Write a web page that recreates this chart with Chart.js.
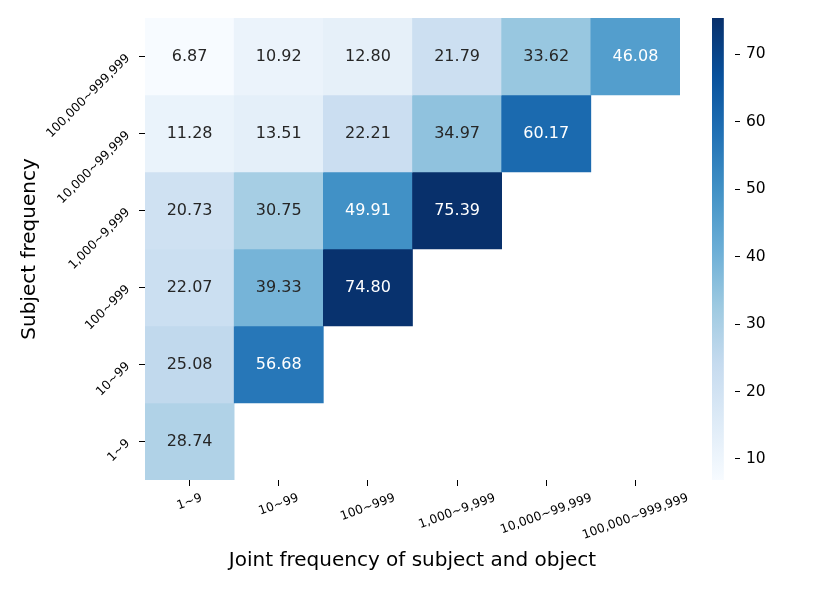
<!DOCTYPE html>
<html><head><meta charset="utf-8">
<script src="https://cdn.jsdelivr.net/npm/chart.js@4/dist/chart.umd.min.js"></script>
<style>
html,body{margin:0;padding:0;background:#fff;overflow:hidden}
#wrap{position:relative;width:830px;height:593px}
#main{position:absolute;left:0;top:0}
#cbar{position:absolute;left:700px;top:0}
</style></head><body>
<div id="wrap"><canvas id="main" width="830" height="593"></canvas><canvas id="cbar" width="130" height="593"></canvas></div>
<script>
// ---- data ----
const colLabels = ['1~9','10~99','100~999','1,000~9,999','10,000~99,999','100,000~999,999'];
const rowLabels = ['100,000~999,999','10,000~99,999','1,000~9,999','100~999','10~99','1~9']; // top -> bottom
const row100000 = [6.87, 10.92, 12.80, 21.79, 33.62, 46.08];
const row10000  = [11.28, 13.51, 22.21, 34.97, 60.17, null];
const row1000   = [20.73, 30.75, 49.91, 75.39, null, null];
const row100    = [22.07, 39.33, 74.80, null, null, null];
const row10     = [25.08, 56.68, null, null, null, null];
const row1      = [28.74, null, null, null, null, null];
const rows = [row100000, row10000, row1000, row100, row10, row1];
const colorbarTicks = [10, 20, 30, 40, 50, 60, 70];
const xTitle = 'Joint frequency of subject and object';
const yTitle = 'Subject frequency';

const allVals = rows.flat().filter(v => v !== null);
const vmin = Math.min(...allVals), vmax = Math.max(...allVals);

// matplotlib "Blues" colormap stops
const blues = [[247,251,255],[222,235,247],[198,219,239],[158,202,225],[107,174,214],[66,146,198],[33,113,181],[8,81,156],[8,48,107]];
function cmap(t){
  t = Math.max(0, Math.min(1, t));
  const p = t * (blues.length - 1);
  const i = Math.min(Math.floor(p), blues.length - 2);
  const f = p - i;
  const a = blues[i], b = blues[i+1];
  return [0,1,2].map(k => a[k] + (b[k]-a[k]) * f);
}
function colorFor(v){
  const c = cmap((v - vmin) / (vmax - vmin));
  return 'rgb(' + c.map(x => Math.round(x)).join(',') + ')';
}
function textColorFor(v){
  const c = cmap((v - vmin) / (vmax - vmin)).map(x => {
    x /= 255; return x <= 0.03928 ? x/12.92 : Math.pow((x+0.055)/1.055, 2.4);
  });
  const lum = 0.2126*c[0] + 0.7152*c[1] + 0.0722*c[2];
  return lum > 0.408 ? '#262626' : '#ffffff';
}

Chart.defaults.font.family = "'DejaVu Sans', sans-serif";
Chart.defaults.color = '#000';
Chart.defaults.animation = false;

const nRows = rows.length;
const datasets = rows.map((vals, r) => {
  const yIdx = nRows - 1 - r;
  return {
    label: rowLabels[r],
    data: vals.map(v => v === null ? null : [yIdx, yIdx + 1]),
    values: vals,
    backgroundColor: vals.map(v => v === null ? 'rgba(0,0,0,0)' : colorFor(v)),
    borderWidth: 0,
    borderSkipped: false,
    grouped: false,
    barPercentage: 1.0,
    categoryPercentage: 1.0
  };
});

const annotatePlugin = {
  id: 'annotate',
  afterDatasetsDraw(chart){
    const ctx = chart.ctx;
    ctx.save();
    ctx.font = "16px 'DejaVu Sans'";
    ctx.textAlign = 'center';
    ctx.textBaseline = 'middle';
    chart.data.datasets.forEach((ds, di) => {
      const meta = chart.getDatasetMeta(di);
      meta.data.forEach((el, i) => {
        const v = ds.values[i];
        if (v === null || v === undefined) return;
        const cy = (el.y + el.base) / 2;
        ctx.fillStyle = textColorFor(v);
        ctx.fillText(v.toFixed(2), el.x, cy);
      });
    });
    ctx.restore();
  }
};

// x tick labels, matplotlib-style centred rotated text
const xLabelPlugin = {
  id: 'xlabels',
  afterDraw(chart){
    const sc = chart.scales.x;
    const ctx = chart.ctx;
    const th = 20 * Math.PI / 180;
    ctx.save();
    ctx.font = "12.3px 'DejaVu Sans'";
    ctx.fillStyle = '#000';
    ctx.textAlign = 'center';
    ctx.textBaseline = 'middle';
    const h = 14;
    const top = sc.top + 11;
    colLabels.forEach((lab, i) => {
      const w = ctx.measureText(lab).width;
      const bh = w * Math.sin(th) + h * Math.cos(th);
      const cx = sc.getPixelForTick(i);
      const cy = top + bh / 2;
      ctx.save();
      ctx.translate(cx, cy);
      ctx.rotate(-th);
      ctx.fillText(lab, 0, 0);
      ctx.restore();
    });
    ctx.restore();
  }
};

new Chart(document.getElementById('main'), {
  type: 'bar',
  data: { labels: colLabels, datasets: datasets },
  plugins: [annotatePlugin, xLabelPlugin],
  options: {
    responsive: false,
    devicePixelRatio: 1,
    layout: { padding: { top: 18, right: 150, left: 0, bottom: 0 } },
    plugins: { legend: { display: false }, tooltip: { enabled: false } },
    scales: {
      x: {
        type: 'category',
        offset: true,
        grid: { offset: false, drawOnChartArea: false, drawTicks: true, tickLength: 6, tickColor: '#000', tickWidth: 1 },
        border: { display: false },
        ticks: { display: false },
        title: { display: true, text: xTitle, font: { size: 20 }, color: '#000', padding: { top: 20, bottom: 20 } },
        afterFit(s){ s.height = 113; s.paddingLeft = 0; s.paddingRight = 0; }
      },
      y: {
        type: 'linear',
        min: 0, max: nRows,
        afterBuildTicks(s){ s.ticks = rowLabels.map((_, i) => ({ value: i + 0.5 })); },
        grid: { drawOnChartArea: false, drawTicks: true, tickLength: 6, tickColor: '#000', tickWidth: 1 },
        border: { display: false },
        ticks: {
          minRotation: 45, maxRotation: 45,
          padding: 11,
          font: { size: 12.3 },
          color: '#000',
          callback: (val) => rowLabels[nRows - 1 - Math.floor(val)]
        },
        title: { display: true, text: yTitle, font: { size: 20 }, color: '#000', padding: { top: 18, bottom: 0 } },
        afterFit(s){ s.width = 145; s.paddingTop = 0; s.paddingBottom = 0; }
      }
    }
  }
});

// ---- colorbar ----
new Chart(document.getElementById('cbar'), {
  type: 'bar',
  data: {
    labels: [''],
    datasets: [{
      data: [[vmin, vmax]],
      borderWidth: 0,
      borderSkipped: false,
      barPercentage: 1.0,
      categoryPercentage: 1.0,
      backgroundColor(ctx){
        const chart = ctx.chart;
        const ys = chart.scales.y;
        if (!ys || !chart.chartArea) return '#08306b';
        const y0 = ys.getPixelForValue(vmin), y1 = ys.getPixelForValue(vmax);
        const g = chart.ctx.createLinearGradient(0, y0, 0, y1);
        blues.forEach((c, i) => g.addColorStop(i / (blues.length - 1), 'rgb(' + c.join(',') + ')'));
        return g;
      }
    }]
  },
  options: {
    responsive: false,
    devicePixelRatio: 1,
    layout: { padding: { top: 18, bottom: 113, left: 12, right: 0 } },
    plugins: { legend: { display: false }, tooltip: { enabled: false } },
    scales: {
      x: { display: false, offset: false },
      y: {
        position: 'right',
        min: vmin, max: vmax,
        afterBuildTicks(s){ s.ticks = colorbarTicks.map(v => ({ value: v })); },
        grid: { drawOnChartArea: false, drawTicks: true, tickLength: 5, tickColor: '#000', tickWidth: 1 },
        border: { display: false },
        ticks: { padding: 6, font: { size: 15.5 }, color: '#000', callback: v => String(v) },
        afterFit(s){ s.width = 95; s.paddingTop = 0; s.paddingBottom = 0; }
      }
    }
  }
});
</script>
</body></html>
